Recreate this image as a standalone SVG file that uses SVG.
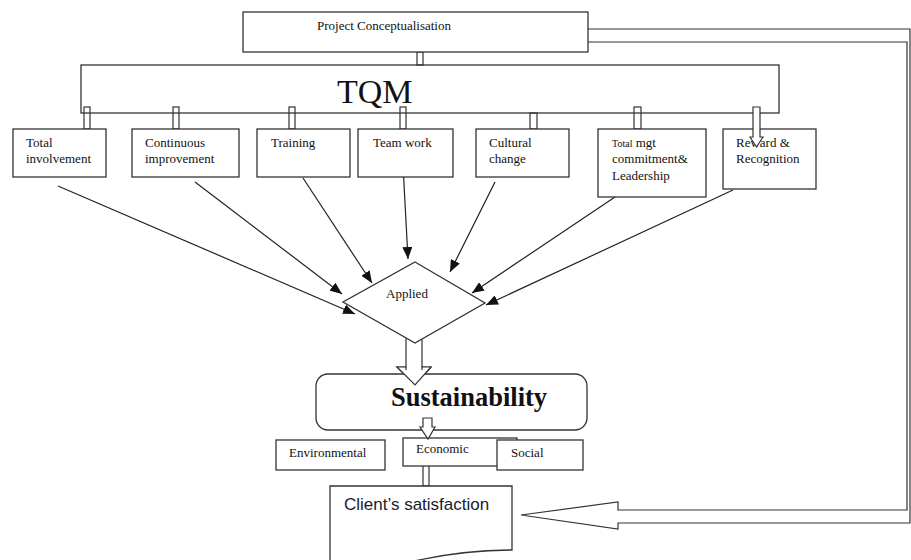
<svg xmlns="http://www.w3.org/2000/svg" width="911" height="560" viewBox="0 0 911 560">
<defs>
<marker id="ah" markerUnits="userSpaceOnUse" markerWidth="13" markerHeight="10" refX="12" refY="5" orient="auto">
<path d="M0,0 L12,5 L0,10 Z" fill="#111"/>
</marker>
<style>
.box{fill:#fff;stroke:#333;stroke-width:1.3}
.ln{fill:none;stroke:#333;stroke-width:1.3}
.pipe{fill:#fff;stroke:#333;stroke-width:1.2}
.t{font-family:"Liberation Serif","Times New Roman",serif;font-size:13px;fill:#111}
.arr{fill:none;stroke:#222;stroke-width:1.2;marker-end:url(#ah)}
</style>
</defs>
<rect width="911" height="560" fill="#fff"/>

<g id="connectors">
<path class="pipe" d="M588,29 H910 V523 H618 V529 L521,515 L618,502 V510 H907 V42 H588"/>
<rect class="pipe" x="417" y="52" width="6" height="13"/>
<rect class="pipe" x="84" y="107" width="6" height="22"/>
<rect class="pipe" x="173" y="107" width="6" height="22"/>
<rect class="pipe" x="289" y="107" width="6" height="22"/>
<rect class="pipe" x="400" y="107" width="6" height="22"/>
<rect class="pipe" x="530" y="113" width="7" height="16"/>
<rect class="pipe" x="634" y="107" width="7" height="22"/>
<line class="arr" x1="58" y1="186" x2="355" y2="314"/>
<line class="arr" x1="195" y1="182" x2="342" y2="294"/>
<line class="arr" x1="303" y1="178" x2="372" y2="283"/>
<line class="arr" x1="403" y1="165" x2="408" y2="259"/>
<line class="arr" x1="495" y1="182" x2="450" y2="272"/>
<line class="arr" x1="615" y1="197" x2="472" y2="293"/>
<line class="arr" x1="733" y1="190" x2="486" y2="305"/>
<path class="pipe" d="M406,330 V367 H397 L415,385 L431,367 H422 V330"/>
<rect class="pipe" x="423" y="462" width="6" height="24"/>
</g>

<g id="project">
<rect class="box" x="243" y="12" width="345" height="40"/>
<text class="t" x="317" y="30">Project Conceptualisation</text>
</g>

<g id="tqm">
<rect class="ln" x="81" y="65" width="698" height="48"/>
<text x="337" y="103" font-family="Liberation Serif, Times New Roman, serif" font-size="34" fill="#111">TQM</text>
</g>

<g id="total-involvement">
<rect class="box" x="13" y="129" width="93" height="48"/>
<text class="t" x="26" y="147">Total</text>
<text class="t" x="26" y="163">involvement</text>
</g>

<g id="continuous-improvement">
<rect class="box" x="132" y="129" width="107" height="48"/>
<text class="t" x="145" y="147">Continuous</text>
<text class="t" x="145" y="163">improvement</text>
</g>

<g id="training">
<rect class="box" x="257" y="129" width="93" height="48"/>
<text class="t" x="271" y="147">Training</text>
</g>

<g id="team-work">
<rect class="box" x="358" y="129" width="95" height="48"/>
<text class="t" x="373" y="147">Team work</text>
</g>

<g id="cultural-change">
<rect class="box" x="476" y="129" width="93" height="48"/>
<text class="t" x="489" y="147">Cultural</text>
<text class="t" x="489" y="163">change</text>
</g>

<g id="total-mgt">
<rect class="box" x="598" y="129" width="108" height="68"/>
<text class="t" x="612" y="147"><tspan font-size="10">Total</tspan> mgt</text>
<text class="t" x="612" y="163">commitment&amp;</text>
<text class="t" x="612" y="180">Leadership</text>
</g>

<g id="reward">
<rect class="box" x="723" y="129" width="93" height="60"/>
<text class="t" x="736" y="147">Reward &amp;</text>
<text class="t" x="736" y="163">Recognition</text>
<path class="pipe" d="M753,107 V137 H750 L756.5,147 L763,137 H760 V107 Z"/>
</g>

<g id="applied">
<path class="box" d="M415,262 L485,303 L415,343 L343,302 Z"/>
<text class="t" x="386" y="298">Applied</text>
</g>

<g id="sustainability">
<rect class="box" x="316" y="374" width="271" height="56" rx="12"/>
<path class="pipe" d="M406,370 V367 H397 L415,385 L431,367 H422 V370"/>
<text x="391" y="406" font-family="Liberation Serif, Times New Roman, serif" font-size="26.5" font-weight="bold" fill="#111">Sustainability</text>
</g>

<g id="environmental">
<rect class="box" x="276" y="440" width="109" height="30"/>
<text class="t" x="289" y="457">Environmental</text>
</g>

<g id="economic">
<rect class="box" x="403" y="438" width="114" height="28"/>
<text class="t" x="416" y="453">Economic</text>
<path class="pipe" d="M423,418 V427 H420 L428,439 L435,427 H432 V418 Z"/>
</g>

<g id="social">
<rect class="box" x="497" y="440" width="86" height="30"/>
<text class="t" x="511" y="457">Social</text>
</g>

<g id="client">
<path class="box" d="M330,562 V486 H512 V550 C475,550 440,555 410,562"/>
<text x="344" y="510" font-family="Liberation Sans, Arial, sans-serif" font-size="17" fill="#1a1a2e">Client’s satisfaction</text>
</g>
</svg>
